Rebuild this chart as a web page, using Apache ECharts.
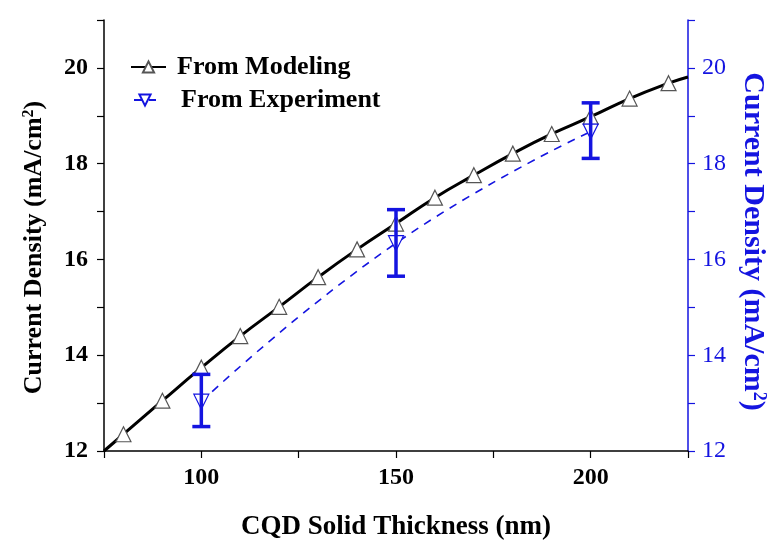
<!DOCTYPE html>
<html>
<head>
<meta charset="utf-8">
<script src="https://cdn.jsdelivr.net/npm/echarts@6/dist/echarts.min.js"></script>
<style>html,body{margin:0;padding:0;background:#fff;}#c{width:776px;height:546px;}</style>
</head>
<body>
<div id="c"></div>
<script>
var modelThickness = [75, 80, 90, 100, 110, 120, 130, 140, 150, 160, 170, 180, 190, 200, 210, 220, 225];
var modelCurrent = [12.0, 12.35, 13.05, 13.74, 14.40, 15.01, 15.63, 16.21, 16.75, 17.29, 17.76, 18.21, 18.62, 18.98, 19.36, 19.68, 19.81];
var expThickness = [100, 150, 200];
var expCurrent = [13.03, 16.34, 18.67];
var expLow = [12.51, 15.65, 18.11];
var expHigh = [13.60, 17.04, 19.27];
var xTickLabels = [100, 150, 200];

var BLUE = '#1414e0';
var FONT = '"Liberation Serif", "DejaVu Serif", serif';

var modelData = modelThickness.map(function (x, i) {
  var item = { value: [x, modelCurrent[i]] };
  if (x === 75 || x === 225) item.symbol = 'none';
  return item;
});
var expData = expThickness.map(function (x, i) { return [x, expCurrent[i]]; });
var errData = expThickness.map(function (x, i) { return [x, expLow[i], expHigh[i]]; });

var chart = echarts.init(document.getElementById('c'));
chart.setOption({
  animation: false,
  backgroundColor: '#fff',
  grid: { left: 104, right: 88, top: 20, bottom: 95 },
  legend: [
    {
      left: 125,
      top: 49,
      itemWidth: 35,
      itemHeight: 14,
      textStyle: { fontFamily: FONT, fontSize: 26, fontWeight: 'bold', color: '#000', padding: [0, 0, 0, 6] },
      data: ['From Modeling']
    },
    {
      left: 128,
      top: 82,
      itemWidth: 22,
      itemHeight: 14,
      textStyle: { fontFamily: FONT, fontSize: 26, fontWeight: 'bold', color: '#000', padding: [0, 0, 0, 20] },
      data: ['From Experiment']
    }
  ],
  xAxis: {
    type: 'value',
    min: 75, max: 225, interval: 25,
    name: 'CQD Solid Thickness (nm)',
    nameLocation: 'middle',
    nameGap: 63,
    nameTextStyle: { fontFamily: FONT, fontSize: 27, fontWeight: 'bold', color: '#000' },
    axisLine: { lineStyle: { color: '#000', width: 1.5 } },
    axisTick: { show: true, inside: false, length: 7, lineStyle: { color: '#000', width: 1.2 } },
    axisLabel: {
      margin: 15,
      fontFamily: FONT, fontSize: 24, fontWeight: 'bold', color: '#000',
      formatter: function (v) { return xTickLabels.indexOf(v) >= 0 ? String(v) : ''; }
    },
    splitLine: { show: false }
  },
  yAxis: [
    {
      type: 'value',
      min: 12, max: 21, interval: 1,
      position: 'left',
      name: 'Current Density (mA/cm{sup|2})',
      nameLocation: 'middle',
      nameGap: 57,
      nameRotate: 90,
      nameTextStyle: { fontFamily: FONT, fontSize: 26, fontWeight: 'bold', color: '#000', padding: [0, 24, 0, 0],
        rich: { sup: { fontSize: 16, verticalAlign: 'top', fontWeight: 'bold', fontFamily: FONT, color: '#000' } } },
      axisLine: { show: true, lineStyle: { color: '#000', width: 1.5 } },
      axisTick: { show: true, inside: false, length: 7, lineStyle: { color: '#000', width: 1.2 } },
      axisLabel: {
        margin: 16,
        fontFamily: FONT, fontSize: 24, fontWeight: 'bold', color: '#000',
        formatter: function (v) { return (v % 2 === 0 && v <= 20) ? String(v) : ''; }
      },
      splitLine: { show: false }
    },
    {
      type: 'value',
      min: 12, max: 21, interval: 1,
      position: 'right',
      name: 'Current Density (mA/cm{sup|2})',
      nameLocation: 'middle',
      nameGap: 50,
      nameRotate: -90,
      nameTextStyle: { fontFamily: FONT, fontSize: 30, fontWeight: 'bold', color: BLUE, padding: [0, 0, 0, 12],
        rich: { sup: { fontSize: 18, verticalAlign: 'top', fontWeight: 'bold', fontFamily: FONT, color: BLUE } } },
      axisLine: { show: true, lineStyle: { color: BLUE, width: 1.5 } },
      axisTick: { show: true, inside: false, length: 7, lineStyle: { color: BLUE, width: 1.2 } },
      axisLabel: {
        margin: 14,
        fontFamily: FONT, fontSize: 24, color: BLUE,
        formatter: function (v) { return (v % 2 === 0 && v <= 20) ? String(v) : ''; }
      },
      splitLine: { show: false }
    }
  ],
  series: [
    {
      name: 'From Modeling',
      type: 'line',
      yAxisIndex: 0,
      data: modelData,
      smooth: true,
      symbol: 'triangle',
      symbolSize: 15,
      showAllSymbol: true,
      lineStyle: { color: '#000', width: 3 },
      itemStyle: { color: '#fff', borderColor: '#555', borderWidth: 1.2 },
      z: 3
    },
    {
      name: 'From Experiment',
      type: 'line',
      yAxisIndex: 1,
      data: expData,
      smooth: true,
      symbol: 'triangle',
      symbolRotate: 180,
      symbolSize: 15,
      lineStyle: { color: BLUE, width: 1.6, type: [8, 7] },
      itemStyle: { color: '#fff', borderColor: BLUE, borderWidth: 1.2 },
      z: 4
    },
    {
      name: 'errorbars',
      type: 'custom',
      yAxisIndex: 1,
      data: errData,
      z: 5,
      renderItem: function (params, api) {
        var x = api.value(0);
        var lo = api.coord([x, api.value(1)]);
        var hi = api.coord([x, api.value(2)]);
        var hw = 9;
        var st = { stroke: BLUE, lineWidth: 3.5 };
        return {
          type: 'group',
          children: [
            { type: 'line', shape: { x1: lo[0], y1: lo[1], x2: hi[0], y2: hi[1] }, style: st },
            { type: 'line', shape: { x1: lo[0] - hw, y1: lo[1], x2: lo[0] + hw, y2: lo[1] }, style: st },
            { type: 'line', shape: { x1: hi[0] - hw, y1: hi[1], x2: hi[0] + hw, y2: hi[1] }, style: st }
          ]
        };
      }
    }
  ]
});
</script>
</body>
</html>
